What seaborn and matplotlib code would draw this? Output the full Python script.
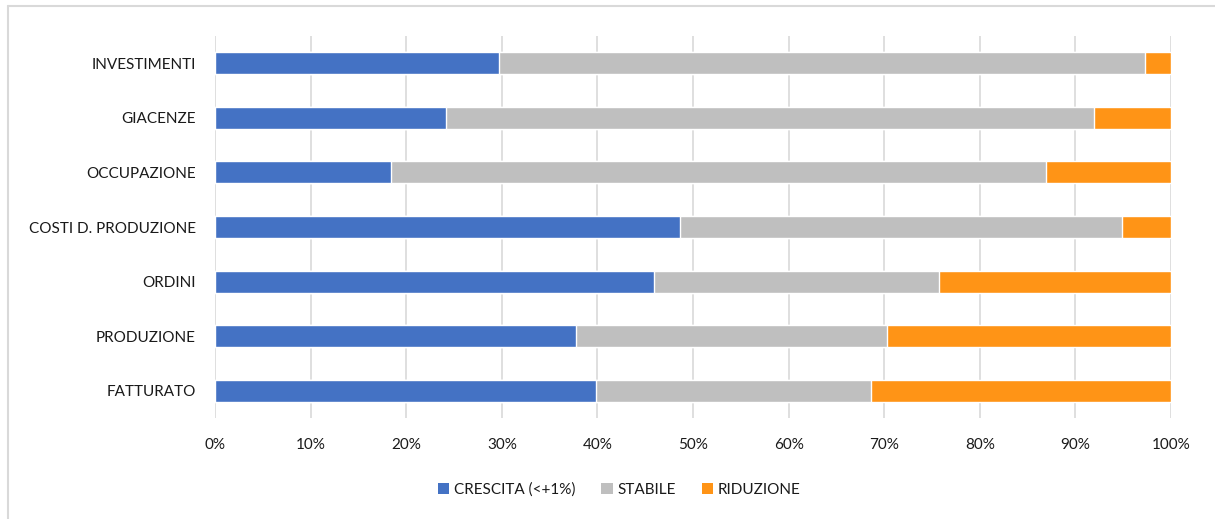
import matplotlib
matplotlib.use("Agg")
import matplotlib.pyplot as plt
from matplotlib.lines import Line2D
from matplotlib.patches import Patch
import numpy as np
import pandas as pd
import seaborn as sns

categorie = ["INVESTIMENTI", "GIACENZE", "OCCUPAZIONE", "COSTI D. PRODUZIONE",
             "ORDINI", "PRODUZIONE", "FATTURATO"]
crescita = [29.7, 24.2, 18.4, 48.6, 45.9, 37.8, 39.9]
stabile = [67.6, 67.7, 68.5, 46.3, 29.8, 32.5, 28.7]
riduzione = [2.7, 8.1, 13.1, 5.1, 24.3, 29.7, 31.4]
serie = ["CRESCITA (<+1%)", "STABILE", "RIDUZIONE"]
colori = ["#4472C4", "#BFBFBF", "#FF9416"]
tick_pct = [0, 10, 20, 30, 40, 50, 60, 70, 80, 90, 100]

sns.set_theme(style="white")
plt.rcParams["font.family"] = ["Lato", "DejaVu Sans"]

df = pd.DataFrame({"categoria": categorie,
                   "crescita": crescita,
                   "stabile": stabile,
                   "riduzione": riduzione})
# cumulative ends of each stacked segment
df["fine_crescita"] = df["crescita"]
df["fine_stabile"] = df["crescita"] + df["stabile"]
df["fine_riduzione"] = df["fine_stabile"] + df["riduzione"]

fig = plt.figure(figsize=(12.15, 5.19), dpi=100)
ax = fig.add_axes([215 / 1215, 1 - 418.3 / 519, (1171 - 215) / 1215, (418.3 - 35.7) / 519])

# draw back-to-front so the shorter cumulative bars sit on top
for col, colore in zip(["fine_riduzione", "fine_stabile", "fine_crescita"], colori[::-1]):
    sns.barplot(data=df, x=col, y="categoria", orient="h", color=colore,
                width=0.4, saturation=1, ax=ax, order=categorie, zorder=3)

ax.set_xlim(0, 100)
ax.set_xticks(tick_pct)
ax.set_xticklabels([f"{t}%" for t in tick_pct])
ax.set_xlabel("")
ax.set_ylabel("")
ax.grid(axis="x", color="#D9D9D9", linewidth=1.2, zorder=0)
ax.grid(axis="y", visible=False)
ax.set_axisbelow(True)
for s in ax.spines.values():
    s.set_visible(False)
ax.tick_params(axis="both", length=0, labelsize=11, colors="#1a1a1a")
ax.tick_params(axis="y", pad=14)
ax.tick_params(axis="x", pad=14)

handles = [Patch(facecolor=c, edgecolor="none") for c in colori]
fig.legend(handles, serie, loc="center", bbox_to_anchor=(619 / 1215, 1 - 490 / 519),
           ncol=3, frameon=False, fontsize=11, handlelength=0.75, handleheight=0.75,
           handletextpad=0.3, columnspacing=1.7, labelcolor="#1a1a1a")

# chart frame
fig.add_artist(Line2D([8 / 1215, 1], [1 - 6 / 519, 1 - 6 / 519], transform=fig.transFigure,
                      color="#D9D9D9", linewidth=1.5))
fig.add_artist(Line2D([8 / 1215, 8 / 1215], [0, 1 - 6 / 519], transform=fig.transFigure,
                      color="#D9D9D9", linewidth=1.5))

fig.savefig("out.png", dpi=100)
